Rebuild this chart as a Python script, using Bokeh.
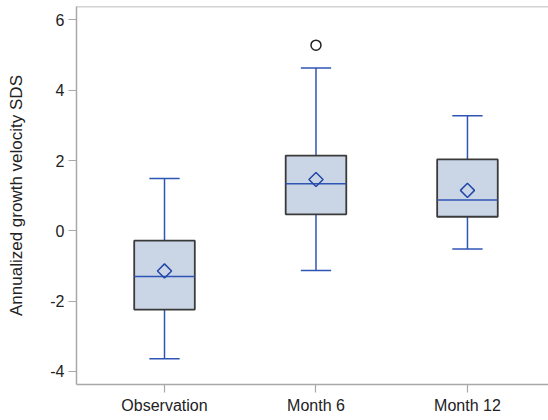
from bokeh.plotting import figure
from bokeh.models import FixedTicker, Span
from bokeh.embed import file_html
from bokeh.resources import INLINE
import numpy as np

categories = ["Observation", "Month 6", "Month 12"]
whisker_low = [-3.64, -1.13, -0.52]
q1 = [-2.24, 0.47, 0.40]
median = [-1.30, 1.34, 0.88]
q3 = [-0.28, 2.14, 2.03]
whisker_high = [1.49, 4.63, 3.27]
means = [-1.14, 1.46, 1.15]
outlier_cat = ["Month 6"]
outlier_val = [5.28]
y_ticks = [-4, -2, 0, 2, 4, 6]

FONT = "Liberation Sans"
AXIS_COLOR = "#a8a8a8"
BLUE = "#2f55b4"

xs = list(range(len(categories)))
pos = {c: i for i, c in enumerate(categories)}

Y_TOP = 6.38
p = figure(width=548, height=420, output_backend="svg", toolbar_location=None,
           x_range=(-0.581, 2.535), y_range=(-4.37, Y_TOP),
           min_border_left=76, min_border_right=0, min_border_top=6, min_border_bottom=36)
p.outline_line_color = None
p.grid.visible = False
p.background_fill_color = "white"
p.border_fill_color = "white"
p.title.visible = False

bw = 0.4
cw = 0.2
# whiskers
p.segment(x0=xs, y0=q3, x1=xs, y1=whisker_high, line_color=BLUE, line_width=1.5)
p.segment(x0=xs, y0=q1, x1=xs, y1=whisker_low, line_color=BLUE, line_width=1.5)
# caps
p.segment(x0=[x - cw / 2 for x in xs], y0=whisker_high, x1=[x + cw / 2 for x in xs], y1=whisker_high,
          line_color=BLUE, line_width=1.5)
p.segment(x0=[x - cw / 2 for x in xs], y0=whisker_low, x1=[x + cw / 2 for x in xs], y1=whisker_low,
          line_color=BLUE, line_width=1.5)
# boxes
p.vbar(x=xs, width=bw, bottom=q1, top=q3, fill_color="#cad5e6", line_color="#3a3a3a", line_width=1.8)
# median
p.segment(x0=[x - bw / 2 for x in xs], y0=median, x1=[x + bw / 2 for x in xs], y1=median,
          line_color=BLUE, line_width=1.5)
# mean
p.scatter(x=xs, y=means, marker="square", angle=np.pi / 4, size=10, fill_color=None,
          line_color="#2448a8", line_width=1.5)
# outliers
p.scatter(x=[pos[c] for c in outlier_cat], y=outlier_val, marker="circle", size=10,
          fill_color=None, line_color="#222222", line_width=1.5)

p.add_layout(Span(location=Y_TOP, dimension="width", line_color=AXIS_COLOR, line_width=1.5))

p.xaxis.ticker = FixedTicker(ticks=xs)
p.xaxis.major_label_overrides = {i: c for i, c in enumerate(categories)}
p.yaxis.ticker = FixedTicker(ticks=y_ticks)
p.yaxis.major_label_overrides = {t: str(t) for t in y_ticks}
p.yaxis.axis_label = "Annualized growth velocity SDS"

for ax in (p.xaxis, p.yaxis):
    ax.axis_line_color = AXIS_COLOR
    ax.axis_line_width = 1.5
    ax.major_tick_line_color = AXIS_COLOR
    ax.major_tick_line_width = 1.2
    ax.major_tick_in = 0
    ax.major_tick_out = 8
    ax.minor_tick_line_color = None
    ax.major_label_text_font = FONT
    ax.major_label_text_font_size = "16px"
    ax.major_label_text_color = "#222222"
    ax.major_label_standoff = 4
p.xaxis.axis_label_standoff = 0
p.yaxis.axis_label_text_font = FONT
p.yaxis.axis_label_text_font_size = "17px"
p.yaxis.axis_label_text_font_style = "normal"
p.yaxis.axis_label_text_color = "#222222"
p.yaxis.axis_label_standoff = 21

open("out.html", "w").write(file_html(p, INLINE))
